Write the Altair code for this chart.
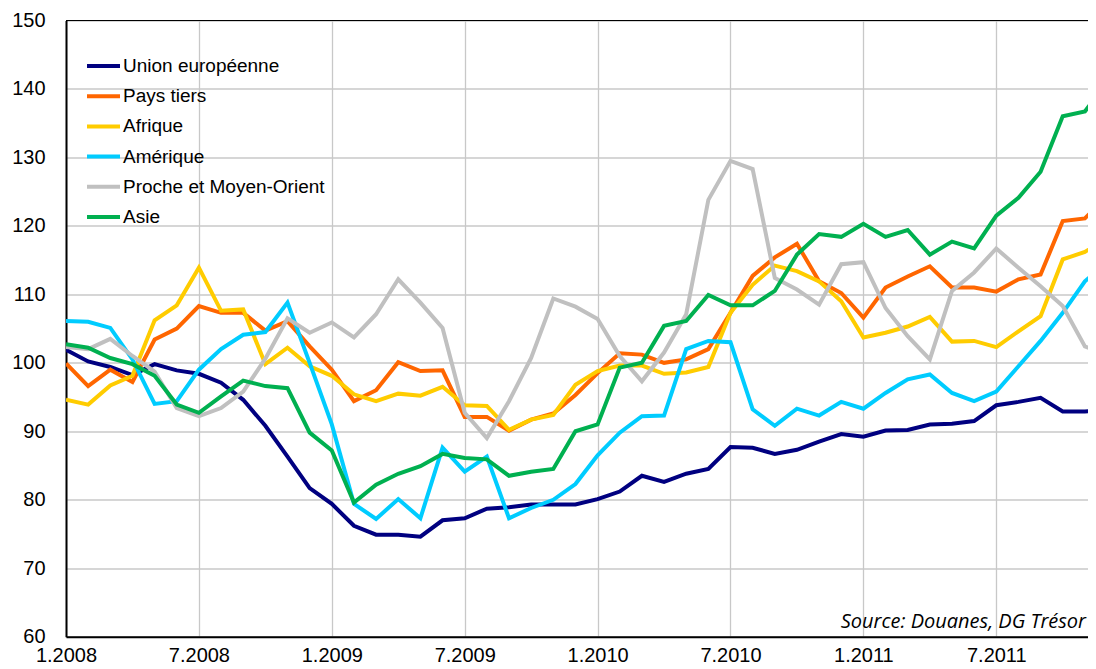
import altair as alt
import pandas as pd

# month index 0 = 1.2008 ... 47 = 12.2011
months = list(range(48))
tick_values = [0, 6, 12, 18, 24, 30, 36, 42]
tick_labels = ["1.2008", "7.2008", "1.2009", "7.2009", "1.2010", "7.2010", "1.2011", "7.2011"]
y_ticks = [60, 70, 80, 90, 100, 110, 120, 130, 140, 150]

series_names = ["Union européenne", "Pays tiers", "Afrique", "Amérique",
                "Proche et Moyen-Orient", "Asie"]
series_colors = ["#000080", "#FF6600", "#FFCC00", "#00CCFF", "#C0C0C0", "#00B050"]

ue = [101.9, 100.2, 99.4, 98.2, 99.8, 98.9, 98.4, 97.1, 94.6, 90.8, 86.3, 81.7,
      79.4, 76.2, 74.9, 74.9, 74.6, 77.0, 77.3, 78.7, 78.9, 79.3, 79.3, 79.3,
      80.1, 81.2, 83.5, 82.6, 83.8, 84.5, 87.7, 87.6, 86.7, 87.3, 88.5, 89.6,
      89.2, 90.1, 90.2, 91.0, 91.1, 91.5, 93.8, 94.3, 94.9, 92.9, 92.9, 93.1]
pays_tiers = [99.9, 96.6, 99.0, 97.2, 103.4, 105.0, 108.3, 107.3, 107.3, 104.7, 106.1, 102.4,
              99.0, 94.4, 96.0, 100.1, 98.8, 98.9, 92.1, 92.1, 90.1, 91.7, 92.6, 95.3,
              98.5, 101.4, 101.2, 100.0, 100.5, 102.0, 107.3, 112.7, 115.4, 117.4, 111.9, 110.2,
              106.6, 111.0, 112.6, 114.1, 111.0, 111.0, 110.4, 112.2, 112.9, 120.7, 121.1, 124.3]
afrique = [94.6, 93.9, 96.7, 98.1, 106.2, 108.4, 113.9, 107.6, 107.8, 99.8, 102.2, 99.5,
           98.1, 95.4, 94.4, 95.5, 95.2, 96.5, 93.8, 93.7, 90.2, 91.7, 92.4, 96.8,
           98.8, 99.6, 99.6, 98.4, 98.6, 99.4, 107.3, 111.4, 114.2, 113.4, 111.9, 109.0,
           103.7, 104.4, 105.3, 106.7, 103.1, 103.2, 102.3, 104.6, 106.8, 115.1, 116.2, 118.2]
amerique = [106.1, 106.0, 105.1, 100.5, 94.0, 94.4, 99.0, 102.0, 104.1, 104.5, 108.8, 100.0,
            91.0, 79.4, 77.2, 80.1, 77.3, 87.6, 84.1, 86.3, 77.3, 78.8, 80.0, 82.3,
            86.5, 89.8, 92.2, 92.3, 102.0, 103.2, 103.0, 93.2, 90.8, 93.3, 92.3, 94.3,
            93.3, 95.6, 97.6, 98.3, 95.6, 94.4, 95.8, 99.5, 103.2, 107.3, 111.9, 114.8]
proche_moyen_orient = [102.3, 102.0, 103.5, 101.0, 98.7, 93.4, 92.2, 93.4, 95.8, 100.6, 106.5, 104.4,
                       105.9, 103.7, 107.1, 112.2, 108.8, 105.1, 92.7, 89.0, 94.4, 100.7, 109.4, 108.2,
                       106.4, 101.0, 97.3, 101.5, 107.1, 123.8, 129.5, 128.3, 112.4, 110.7, 108.5, 114.4,
                       114.7, 108.0, 103.9, 100.5, 110.5, 113.2, 116.7, 113.9, 111.2, 108.3, 102.4, 101.2]
asie = [102.7, 102.2, 100.7, 99.8, 98.1, 93.9, 92.7, 95.1, 97.4, 96.6, 96.3, 89.8,
        87.2, 79.6, 82.2, 83.8, 84.9, 86.7, 86.1, 85.9, 83.5, 84.1, 84.5, 90.0,
        91.0, 99.3, 100.0, 105.4, 106.1, 109.9, 108.4, 108.4, 110.5, 115.8, 118.8, 118.4,
        120.3, 118.4, 119.4, 115.8, 117.7, 116.7, 121.5, 124.1, 127.9, 136.0, 136.7, 141.0]

source_text = "Source: Douanes, DG Trésor"

all_series = [ue, pays_tiers, afrique, amerique, proche_moyen_orient, asie]
rows = []
for order, (name, vals) in enumerate(zip(series_names, all_series)):
    for m, v in zip(months, vals):
        rows.append({"mois": m, "indice": v, "zone": name, "ordre": order})
df = pd.DataFrame(rows)

FONT = "Liberation Sans"
label_expr = "[" + ",".join(f"'{t}'" for t in tick_labels) + "][round(datum.value / 6)]"

x_scale = alt.Scale(domain=[0, 46.14], nice=False, zero=False)
y_scale = alt.Scale(domain=[60, 150], nice=False, zero=False)

x_axis = alt.Axis(values=tick_values, labelExpr=label_expr, labelFlush=False,
                  labelOverlap=False, labelPadding=9, ticks=False,
                  grid=True, domainWidth=2, title=None)
y_axis = alt.Axis(values=y_ticks, labelPadding=21, ticks=False, grid=True,
                  domainWidth=2, title=None)

lines = alt.Chart(df).mark_line(strokeWidth=4, clip=True).encode(
    x=alt.X("mois:Q", scale=x_scale, axis=x_axis),
    y=alt.Y("indice:Q", scale=y_scale, axis=y_axis),
    color=alt.Color("zone:N",
                    scale=alt.Scale(domain=series_names, range=series_colors),
                    legend=alt.Legend(orient="none", legendX=19, legendY=27, title=None,
                                      symbolType="stroke", symbolStrokeWidth=4,
                                      symbolSize=1089, labelFontSize=19, labelFont=FONT,
                                      labelColor="black", rowPadding=1.2, labelOffset=1,
                                      padding=0, symbolOffset=0, labelLimit=400)),
    order=alt.Order("ordre:Q"),
    detail="zone:N",
)

top_border = alt.Chart(pd.DataFrame({"v": [150]})).mark_rule(
    color="black", strokeWidth=1.2).encode(
    y=alt.Y("v:Q", scale=y_scale, axis=y_axis))

source = alt.Chart(pd.DataFrame({"x": [46.05], "y": [61.3], "t": [source_text]})).mark_text(
    align="right", baseline="alphabetic", font="Open Sans", fontStyle="italic",
    fontSize=20, color="black").encode(
    x=alt.X("x:Q", scale=x_scale, axis=x_axis),
    y=alt.Y("y:Q", scale=y_scale, axis=y_axis),
    text="t:N")

chart = alt.layer(lines, top_border, source).properties(
    width=1022, height=616.2,
    padding={"left": 58, "top": 12.5, "right": 0, "bottom": 32},
    autosize="none",
).configure_view(stroke=None).configure_axis(
    labelFont=FONT, labelFontSize=20, labelColor="black",
    domainColor="black", gridColor="#c8c8c8", gridWidth=1.3,
)

chart.save("out.html", embed_options={"renderer": "svg", "actions": False})
